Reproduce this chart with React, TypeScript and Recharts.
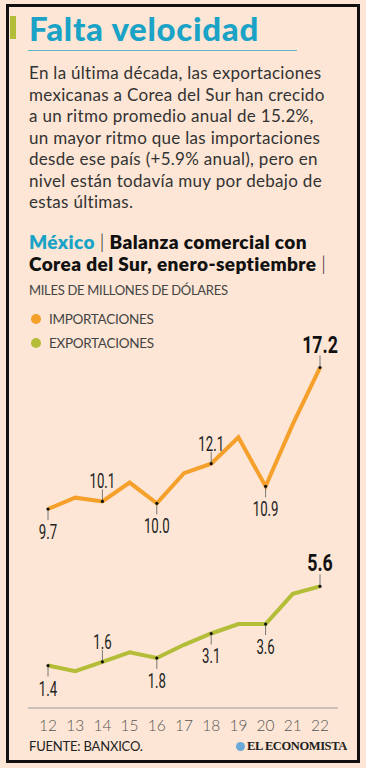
import { LineChart, Line, XAxis, YAxis } from "recharts";

const years = ["12", "13", "14", "15", "16", "17", "18", "19", "20", "21", "22"];
const importaciones = [9.7, 10.3, 10.1, 11.1, 10.0, 11.6, 12.1, 13.5, 10.9, 14.2, 17.2];
const exportaciones = [1.4, 1.1, 1.6, 2.1, 1.8, 2.5, 3.1, 3.6, 3.6, 5.2, 5.6];

// which points carry a label, and on which side
const importLabels: Record<number, "up" | "down"> = { 0: "down", 2: "up", 4: "down", 6: "up", 8: "down", 10: "up" };
const exportLabels: Record<number, "up" | "down"> = { 0: "down", 2: "up", 4: "down", 6: "down", 8: "down", 10: "up" };

const data = years.map((y, i) => ({ year: y, imp: importaciones[i], exp: exportaciones[i] }));

const ORANGE = "#f5a02a";
const GREEN = "#b3bd37";
const CYAN = "#1aa3c6";
const BG = "#fde6d5";
const TEXT = "#333";
const SANS = "Lato, 'Open Sans', sans-serif";

const makeDot = (labels: Record<number, "up" | "down">, last: number) => (props: any) => {
  const { cx, cy, index, value } = props;
  const side = labels[index];
  if (!side) return <g key={`d-${index}`} />;
  const bold = index === last;
  const ty = side === "up" ? cy - (bold ? 15 : 13) : cy + 30;
  return (
    <g key={`d-${index}`}>
      {side === "up" ? (
        <line x1={cx} x2={cx} y1={cy} y2={cy - 12} stroke="#777" strokeWidth={1} />
      ) : (
        <line x1={cx} x2={cx} y1={cy} y2={cy + 11} stroke="#777" strokeWidth={1} />
      )}
      <circle cx={cx} cy={cy} r={1.6} fill="#111" />
      <g transform={`translate(${cx},${ty}) scale(${bold ? 0.74 : 0.66},1)`}>
        <text
          x={0}
          y={0}
          textAnchor="middle"
          fontFamily="Roboto, sans-serif"
          fontSize={bold ? 24 : 20}
          fontWeight={bold ? 700 : 400}
          fill={bold ? "#111" : "#222"}
        >
          {Number(value).toFixed(1)}
        </text>
      </g>
    </g>
  );
};

const body = [
  "En la última década, las exportaciones",
  "mexicanas a Corea del Sur han crecido",
  "a un ritmo promedio anual de 15.2%,",
  "un mayor ritmo que las importaciones",
  "desde ese país (+5.9% anual), pero en",
  "nivel están todavía muy por debajo de",
  "estas últimas.",
];

export default function App() {
  return (
    <div style={{ position: "relative", width: 366, height: 768, background: BG, fontFamily: SANS, overflow: "hidden" }}>
      <style>{`body{margin:0;background:${BG}}`}</style>
      <div style={{ position: "absolute", left: 6, top: 4, width: 348, height: 753, border: "3px solid #111" }} />
      <div style={{ position: "absolute", left: 10, top: 16, width: 6, height: 23, background: GREEN }} />
      <div style={{ position: "absolute", left: 29, top: 10, fontSize: 33, fontWeight: 900, color: CYAN, lineHeight: "36px", letterSpacing: 0.7, whiteSpace: "nowrap" }}>
        Falta velocidad
      </div>
      <div style={{ position: "absolute", left: 28, top: 50, width: 269, height: 1, background: CYAN, opacity: 0.7 }} />
      <div style={{ position: "absolute", left: 29, top: 62, fontSize: 17, lineHeight: "21.5px", color: TEXT, fontWeight: 400, letterSpacing: 0.3, whiteSpace: "nowrap" }}>
        {body.map((l) => (
          <div key={l}>{l}</div>
        ))}
      </div>
      <div style={{ position: "absolute", left: 29, top: 231, fontSize: 19, lineHeight: "22px", fontWeight: 800, color: "#111", letterSpacing: 0.4, whiteSpace: "nowrap" }}>
        <div>
          <span style={{ color: CYAN }}>México</span> <span style={{ fontWeight: 300 }}>|</span> Balanza comercial con
        </div>
        <div>
          Corea del Sur, enero-septiembre <span style={{ fontWeight: 300 }}>|</span>
        </div>
      </div>
      <div style={{ position: "absolute", left: 29, top: 282, fontSize: 13, color: "#444", letterSpacing: -0.3 }}>
        MILES DE MILLONES DE DÓLARES
      </div>
      {[
        { label: "IMPORTACIONES", color: ORANGE, top: 311 },
        { label: "EXPORTACIONES", color: GREEN, top: 335 },
      ].map((l) => (
        <div key={l.label} style={{ position: "absolute", left: 31, top: l.top, display: "flex", alignItems: "center", fontSize: 13.5, color: "#444", letterSpacing: -0.3 }}>
          <span style={{ width: 10, height: 10, borderRadius: 5, background: l.color, marginRight: 8 }} />
          {l.label}
        </div>
      ))}
      <div style={{ position: "absolute", left: 0, top: 300 }}>
        <LineChart width={366} height={438} data={data} margin={{ top: 43, right: 28, bottom: 0, left: 28 }}>
          <YAxis hide domain={[-0.85, 18.5]} />
          <XAxis
            dataKey="year"
            padding={{ left: 20, right: 18 }}
            axisLine={{ stroke: "#999", strokeWidth: 1 }}
            tickLine={false}
            tickSize={0}
            tickMargin={12}
            height={30}
            interval={0}
            tick={{ fontSize: 15.5, fill: "#555", fontFamily: SANS, fontWeight: 300 }}
          />
          <Line
            dataKey="imp"
            stroke={ORANGE}
            strokeWidth={4}
            strokeLinejoin="miter"
            dot={makeDot(importLabels, importaciones.length - 1)}
            activeDot={false}
            isAnimationActive={false}
          />
          <Line
            dataKey="exp"
            stroke={GREEN}
            strokeWidth={4}
            strokeLinejoin="miter"
            dot={makeDot(exportLabels, exportaciones.length - 1)}
            activeDot={false}
            isAnimationActive={false}
          />
        </LineChart>
      </div>
      <div style={{ position: "absolute", left: 29, top: 738, fontSize: 13, color: "#222", letterSpacing: -0.2 }}>FUENTE: BANXICO.</div>
      <div style={{ position: "absolute", left: 236, top: 739, display: "flex", alignItems: "center" }}>
        <span style={{ width: 9, height: 9, borderRadius: 5, background: "#6aa9d8", marginRight: 2 }} />
        <span style={{ fontFamily: "'Liberation Serif', serif", fontWeight: 700, fontSize: 12.5, color: "#222", letterSpacing: -0.4 }}>EL ECONOMISTA</span>
      </div>
    </div>
  );
}
